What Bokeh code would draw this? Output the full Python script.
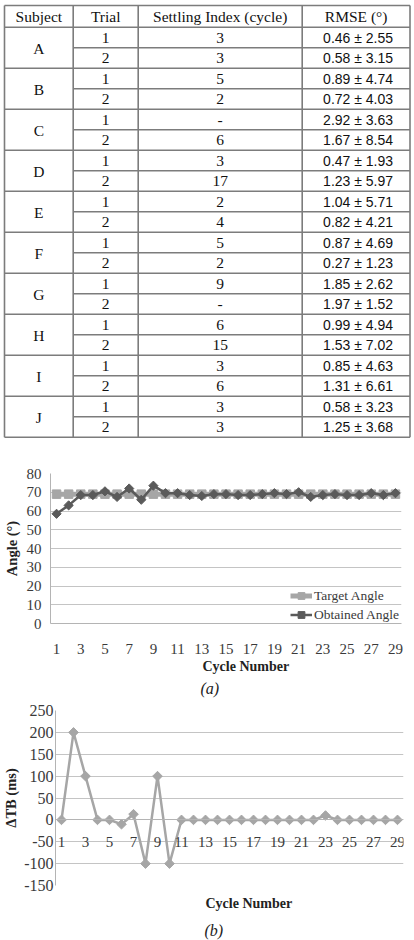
import numpy as np
from bokeh.plotting import figure
from bokeh.layouts import column
from bokeh.models import Range1d, FixedTicker, Legend, LegendItem, Title, PrintfTickFormatter
from bokeh.embed import file_html
from bokeh.resources import INLINE
from bokeh.core.properties import value

# ---------------- data ----------------
header = ["Subject", "Trial", "Settling Index (cycle)", "RMSE (°)"]
subjects = ["A", "B", "C", "D", "E", "F", "G", "H", "I", "J"]
trials = ["1", "2", "1", "2", "1", "2", "1", "2", "1", "2",
          "1", "2", "1", "2", "1", "2", "1", "2", "1", "2"]
settling_index = ["3", "3", "5", "2", "-", "6", "3", "17", "2", "4",
                  "5", "2", "9", "-", "6", "15", "3", "6", "3", "3"]
rmse_mean = ["0.46", "0.58", "0.89", "0.72", "2.92", "1.67", "0.47", "1.23", "1.04", "0.82",
             "0.87", "0.27", "1.85", "1.97", "0.99", "1.53", "0.85", "1.31", "0.58", "1.25"]
rmse_sd = ["2.55", "3.15", "4.74", "4.03", "3.63", "8.54", "1.93", "5.97", "5.71", "4.21",
           "4.69", "1.23", "2.62", "1.52", "4.94", "7.02", "4.63", "6.61", "3.23", "3.68"]

cycles = list(range(1, 30))
cycle_ticks = [1, 3, 5, 7, 9, 11, 13, 15, 17, 19, 21, 23, 25, 27, 29]
target_angle = [69, 69, 69, 69, 69, 69, 69, 69, 69, 69, 69, 69, 69, 69, 69,
                69, 69, 69, 69, 69, 69, 69, 69, 69, 69, 69, 69, 69, 69]
obtained_angle = [58.5, 63, 68.5, 68.5, 70.5, 67.5, 72, 66, 73.5, 69.5, 69.5, 68.5, 68, 69, 69,
                  68.5, 68.5, 69, 69.5, 69, 70, 67.5, 68.5, 69, 68.5, 68.5, 69.5, 68.5, 69.5]
angle_ticks = [0, 10, 20, 30, 40, 50, 60, 70, 80]
delta_tb = [0, 200, 100, 0, 0, -10, 13, -100, 100, -100, 0, 0, 0, 0, 0,
            0, 0, 0, 0, 0, 0, 0, 10, 0, 0, 0, 0, 0, 0]
dtb_ticks = [-150, -100, -50, 0, 50, 100, 150, 200, 250]

SERIF = value("Liberation Serif")
SANS = value("Liberation Sans")


def no_align(p):
    try:
        p.frame_align = False
    except AttributeError:
        pass


# ---------------- table ----------------
TW, TH = 414, 445
col_x = [4, 72.7, 137.7, 301.7, 409.5]
t_top, head_bot, row_h = 5, 26.7, 20.5
n_rows = len(trials)
t_bot = head_bot + n_rows * row_h

pt = figure(width=TW, height=TH, x_range=Range1d(0, TW), y_range=Range1d(TH, 0),
            x_axis_type=None, y_axis_type=None, output_backend="svg",
            toolbar_location=None, min_border=0)
no_align(pt)
pt.grid.visible = False
pt.outline_line_color = None

x0s, y0s, x1s, y1s = [], [], [], []
for cx in col_x:
    x0s.append(cx); x1s.append(cx); y0s.append(t_top); y1s.append(t_bot)
for yy in [t_top, head_bot]:
    x0s.append(col_x[0]); x1s.append(col_x[-1]); y0s.append(yy); y1s.append(yy)
for i in range(n_rows):
    yy = head_bot + (i + 1) * row_h
    start = col_x[0] if (i % 2 == 1) else col_x[1]
    x0s.append(start); x1s.append(col_x[-1]); y0s.append(yy); y1s.append(yy)
pt.segment(x0=x0s, y0=y0s, x1=x1s, y1=y1s, line_color="#7c7c7c", line_width=1.6)

col_cx = [(col_x[i] + col_x[i + 1]) / 2 for i in range(4)]
pt.text(x=col_cx, y=[(t_top + head_bot) / 2 + 0.5] * 4, text=header,
        text_align="center", text_baseline="middle", text_font=SERIF,
        text_font_size="15.5px", text_color="#111111")
pt.text(x=[col_cx[0]] * len(subjects),
        y=[head_bot + (2 * g + 1) * row_h + 0.5 for g in range(len(subjects))],
        text=subjects, text_align="center", text_baseline="middle",
        text_font=SERIF, text_font_size="15.5px", text_color="#111111")
row_y = [head_bot + (i + 0.5) * row_h + 0.5 for i in range(n_rows)]
pt.text(x=[col_cx[1]] * n_rows, y=row_y, text=trials, text_align="center",
        text_baseline="middle", text_font=SERIF, text_font_size="15.5px", text_color="#111111")
pt.text(x=[col_cx[2]] * n_rows, y=row_y, text=settling_index, text_align="center",
        text_baseline="middle", text_font=SERIF, text_font_size="15.5px", text_color="#111111")
pt.text(x=[col_cx[3] + 2] * n_rows, y=row_y,
        text=[f"{m} ± {s}" for m, s in zip(rmse_mean, rmse_sd)],
        text_align="center", text_baseline="middle", text_font=SANS,
        text_font_size="14px", text_color="#111111")


def style_axes(p, label_standoff_y, label_standoff_x, ysize="15px"):
    for ax in [p.xaxis[0], p.yaxis[0]]:
        ax.major_tick_out = 0
        ax.major_tick_in = 0
        ax.minor_tick_out = 0
        ax.minor_tick_in = 0
        ax.axis_line_color = "#b4b4b4"
        ax.axis_line_width = 1
        ax.major_label_text_font = "Liberation Serif"
        ax.major_label_text_font_size = "15px"
        ax.major_label_text_color = "#3a3a3a"
    p.yaxis[0].major_label_text_font_size = ysize
    p.yaxis[0].formatter = PrintfTickFormatter(format="%d")
    p.yaxis[0].major_label_standoff = label_standoff_y
    p.xaxis[0].major_label_standoff = label_standoff_x
    p.xgrid.visible = False
    p.ygrid.grid_line_color = "#c4c4c4"
    p.ygrid.grid_line_width = 1
    p.outline_line_color = None


def add_title(p, text, offset, style, size, standoff, valign):
    p.add_layout(Title(text=text, align="left", offset=offset, standoff=standoff,
                       vertical_align=valign, text_font="Liberation Serif",
                       text_font_style=style, text_font_size=size,
                       text_color="#222222"), "below")


# ---------------- chart (a) ----------------
pa = figure(width=414, height=255, x_range=Range1d(0.5, 29.5), y_range=Range1d(0, 80),
            output_backend="svg", toolbar_location=None,
            min_border_left=49, min_border_right=13, min_border_top=28, min_border_bottom=76)
no_align(pa)
style_axes(pa, 9, 20)
pa.xaxis.ticker = FixedTicker(ticks=cycle_ticks)
pa.yaxis.ticker = FixedTicker(ticks=angle_ticks)
pa.ygrid.ticker = FixedTicker(ticks=angle_ticks)
pa.yaxis.axis_label = "Angle (°)"
pa.yaxis.axis_label_text_font = "Liberation Serif"
pa.yaxis.axis_label_text_font_style = "bold"
pa.yaxis.axis_label_text_font_size = "14.5px"
pa.yaxis.axis_label_text_color = "#222222"
pa.yaxis.axis_label_standoff = 4

t_line = pa.line(cycles, target_angle, line_color="#a6a6a6", line_width=5)
t_sc = pa.scatter(cycles, target_angle, marker="square", size=8.5,
                  fill_color="#a6a6a6", line_color="#a6a6a6")
o_line = pa.line(cycles, obtained_angle, line_color="#5a5a5a", line_width=2.5)
o_sc = pa.scatter(cycles, obtained_angle, marker="square", angle=np.pi / 4, size=6.5,
                  fill_color="#5a5a5a", line_color="#5a5a5a")

legend = Legend(items=[LegendItem(label="Target Angle", renderers=[t_line, t_sc]),
                       LegendItem(label="Obtained Angle", renderers=[o_line, o_sc])],
                location=(240, 0), glyph_width=22, glyph_height=17, label_height=17,
                spacing=2, padding=1, margin=0, label_standoff=2,
                border_line_color=None, background_fill_alpha=0,
                label_text_font="Liberation Serif", label_text_font_size="13.5px",
                label_text_color="#3a3a3a")
pa.add_layout(legend)

add_title(pa, "Cycle Number", 152, "bold", "14px", 2, "middle")
add_title(pa, "(a)", 150, "italic", "16px", 6, "middle")

# ---------------- chart (b) ----------------
pb = figure(width=414, height=240, x_range=Range1d(0.5, 29.5), y_range=Range1d(-150, 250),
            output_backend="svg", toolbar_location=None,
            min_border_left=52, min_border_right=11, min_border_top=10, min_border_bottom=53)
no_align(pb)
style_axes(pb, 2, 17, ysize="16px")
pb.xaxis.ticker = FixedTicker(ticks=cycle_ticks)
pb.xaxis.fixed_location = 0
pb.yaxis.ticker = FixedTicker(ticks=dtb_ticks)
pb.ygrid.ticker = FixedTicker(ticks=dtb_ticks)
pb.yaxis.axis_label = "ΔTB (ms)"
pb.yaxis.axis_label_text_font = "Liberation Serif"
pb.yaxis.axis_label_text_font_style = "bold"
pb.yaxis.axis_label_text_font_size = "14.5px"
pb.yaxis.axis_label_text_color = "#222222"
pb.yaxis.axis_label_standoff = 2

pb.line(cycles, delta_tb, line_color="#a6a6a6", line_width=2.5)
pb.scatter(cycles, delta_tb, marker="square", angle=np.pi / 4, size=6.8,
           fill_color="#a6a6a6", line_color="#a6a6a6")

add_title(pb, "Cycle Number", 150, "bold", "14px", 19, "middle")
add_title(pb, "(b)", 149, "italic", "16px", 0, "top")

layout = column(pt, pa, pb, spacing=0)
open("out.html", "w").write(file_html(layout, INLINE))
